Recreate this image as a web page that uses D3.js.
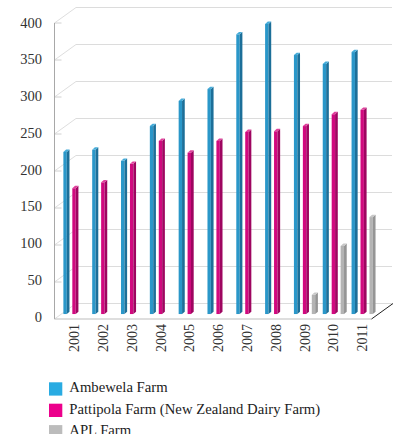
<!DOCTYPE html>
<html>
<head>
<meta charset="utf-8">
<script src="https://cdn.jsdelivr.net/npm/d3@7"></script>
<style>
	body { margin: 0; background: #fff; }
	svg { display: block; }
</style>
</head>
<body>
<svg width="398" height="434"></svg>
<script>
// 3D-style grouped column chart of farm output by year

var years = ["2001", "2002", "2003", "2004", "2005", "2006", "2007", "2008", "2009", "2010", "2011"];
var series_names = ["Ambewela Farm", "Pattipola Farm (New Zealand Dairy Farm)", "APL Farm"];
var ambewela = [219, 222, 207, 254, 288, 304, 378, 392, 350, 338, 354];
var pattipola = [170, 178, 203, 234, 218, 234, 246, 247, 254, 270, 276];
var apl = [null, null, null, null, null, null, null, null, 26, 92, 131];
var y_ticks = [0, 50, 100, 150, 200, 250, 300, 350, 400];

var series_values = [ambewela, pattipola, apl];
var front_colors = ["#2a97c9", "#d1097f", "#b4b4b4"];
var side_colors = ["#1c6f99", "#9e0560", "#959595"];
var top_colors = ["#46acd9", "#e0409c", "#c8c8c8"];
var legend_colors = ["#29abe2", "#ec008c", "#bcbcbc"];
var font = "'Times New Roman', Times, 'Liberation Serif', serif";

function draw(){
	var svg_handle = d3.select("svg");

	// front plane of the plot box and the depth offset to the back wall
	var left = 54.5, right = 371.5;
	var depth_x = 21.5, depth_y = -15.5;
	var bar_depth = 0.32;

	var x = d3.scaleBand().domain(years).range([left, right]);
	var x_inner = d3.scaleBand().domain(d3.range(series_names.length)).range([2, x.bandwidth()]);
	var y = d3.scaleLinear().domain([0, 400]).range([319, 23]);

	var grid = svg_handle.append("g").attr("fill", "none");

	// back wall gridlines
	grid.selectAll("line.back")
		.data(y_ticks)
		.enter().append("line")
		.attr("x1", left + depth_x)
		.attr("x2", right + depth_x - 1)
		.attr("y1", v => y(v) + depth_y)
		.attr("y2", v => y(v) + depth_y)
		.attr("stroke", "#dcdcdc");

	// side wall diagonals
	grid.selectAll("line.side")
		.data(y_ticks)
		.enter().append("line")
		.attr("x1", left)
		.attr("x2", left + depth_x)
		.attr("y1", v => y(v))
		.attr("y2", v => y(v) + depth_y)
		.attr("stroke", "#dedede");

	// small front ticks
	grid.selectAll("line.tick")
		.data(y_ticks.slice(1))
		.enter().append("line")
		.attr("x1", left)
		.attr("x2", left + 7)
		.attr("y1", v => y(v))
		.attr("y2", v => y(v))
		.attr("stroke", "#d0d0d0");

	// front axis and floor edge
	grid.append("line")
		.attr("x1", left).attr("x2", left)
		.attr("y1", y(400)).attr("y2", y(0))
		.attr("stroke", "#a8a8a8");
	grid.append("line")
		.attr("x1", left).attr("x2", right)
		.attr("y1", y(0)).attr("y2", y(0))
		.attr("stroke", "#bdbdbd");
	grid.append("line")
		.attr("x1", right).attr("x2", right + depth_x)
		.attr("y1", y(0)).attr("y2", y(0) + depth_y)
		.attr("stroke", "#222");

	// y tick labels
	svg_handle.append("g")
		.selectAll("text")
		.data(y_ticks)
		.enter().append("text")
		.attr("x", 42)
		.attr("y", v => y(v) - 2.5 + v / 400 * 2)
		.attr("dy", "0.35em")
		.attr("text-anchor", "end")
		.attr("font-family", font)
		.attr("font-size", 14.5)
		.attr("fill", "#333")
		.text(v => v);

	// x labels, rotated
	svg_handle.append("g")
		.selectAll("text")
		.data(years)
		.enter().append("text")
		.attr("transform", d => "translate(" + (x(d) + x.bandwidth() / 2 + 5.3) + ",324) rotate(-90)")
		.attr("dy", "0.35em")
		.attr("text-anchor", "end")
		.attr("font-family", font)
		.attr("font-size", 14)
		.attr("fill", "#333")
		.text(d => d);

	// bars, drawn as three faces
	var off_x = bar_depth * depth_x, off_y = bar_depth * depth_y;
	var bw = 3.4, bdx = 2.7, bdy = -2.4;
	var bars = [];
	series_values.forEach((vals, s) => {
		vals.forEach((v, i) => {
			if (v === null) return;
			bars.push({s: s, year: years[i], value: v});
		});
	});

	var bar = svg_handle.append("g")
		.selectAll("g")
		.data(bars)
		.enter().append("g");

	function pts(b){
		var x0 = x(b.year) + x_inner(b.s) + off_x;
		var y0 = y(0) + off_y;
		var y1 = y(b.value) + off_y;
		return {x0: x0, x1: x0 + bw, y0: y0, y1: y1};
	}

	bar.append("rect")
		.attr("x", b => pts(b).x0)
		.attr("y", b => pts(b).y1)
		.attr("width", bw)
		.attr("height", b => pts(b).y0 - pts(b).y1)
		.attr("fill", b => front_colors[b.s]);

	bar.append("polygon")
		.attr("points", b => {
			var p = pts(b);
			return [[p.x1, p.y1], [p.x1 + bdx, p.y1 + bdy], [p.x1 + bdx, p.y0 + bdy], [p.x1, p.y0]].join(" ");
		})
		.attr("fill", b => side_colors[b.s]);

	bar.append("polygon")
		.attr("points", b => {
			var p = pts(b);
			return [[p.x0, p.y1], [p.x0 + bdx, p.y1 + bdy], [p.x1 + bdx, p.y1 + bdy], [p.x1, p.y1]].join(" ");
		})
		.attr("fill", b => top_colors[b.s]);

	// legend
	var legend = svg_handle.append("g")
		.selectAll("g")
		.data(series_names)
		.enter().append("g")
		.attr("transform", (d, i) => "translate(49," + (382.3 + i * 21.4) + ")");

	legend.append("rect")
		.attr("width", 13.3)
		.attr("height", 13.3)
		.attr("fill", (d, i) => legend_colors[i]);

	legend.append("text")
		.attr("x", 20.3)
		.attr("y", 9.8)
		.attr("font-family", font)
		.attr("font-size", 14.7)
		.attr("fill", "#222")
		.text(d => d);
}

draw();
</script>
</body>
</html>
